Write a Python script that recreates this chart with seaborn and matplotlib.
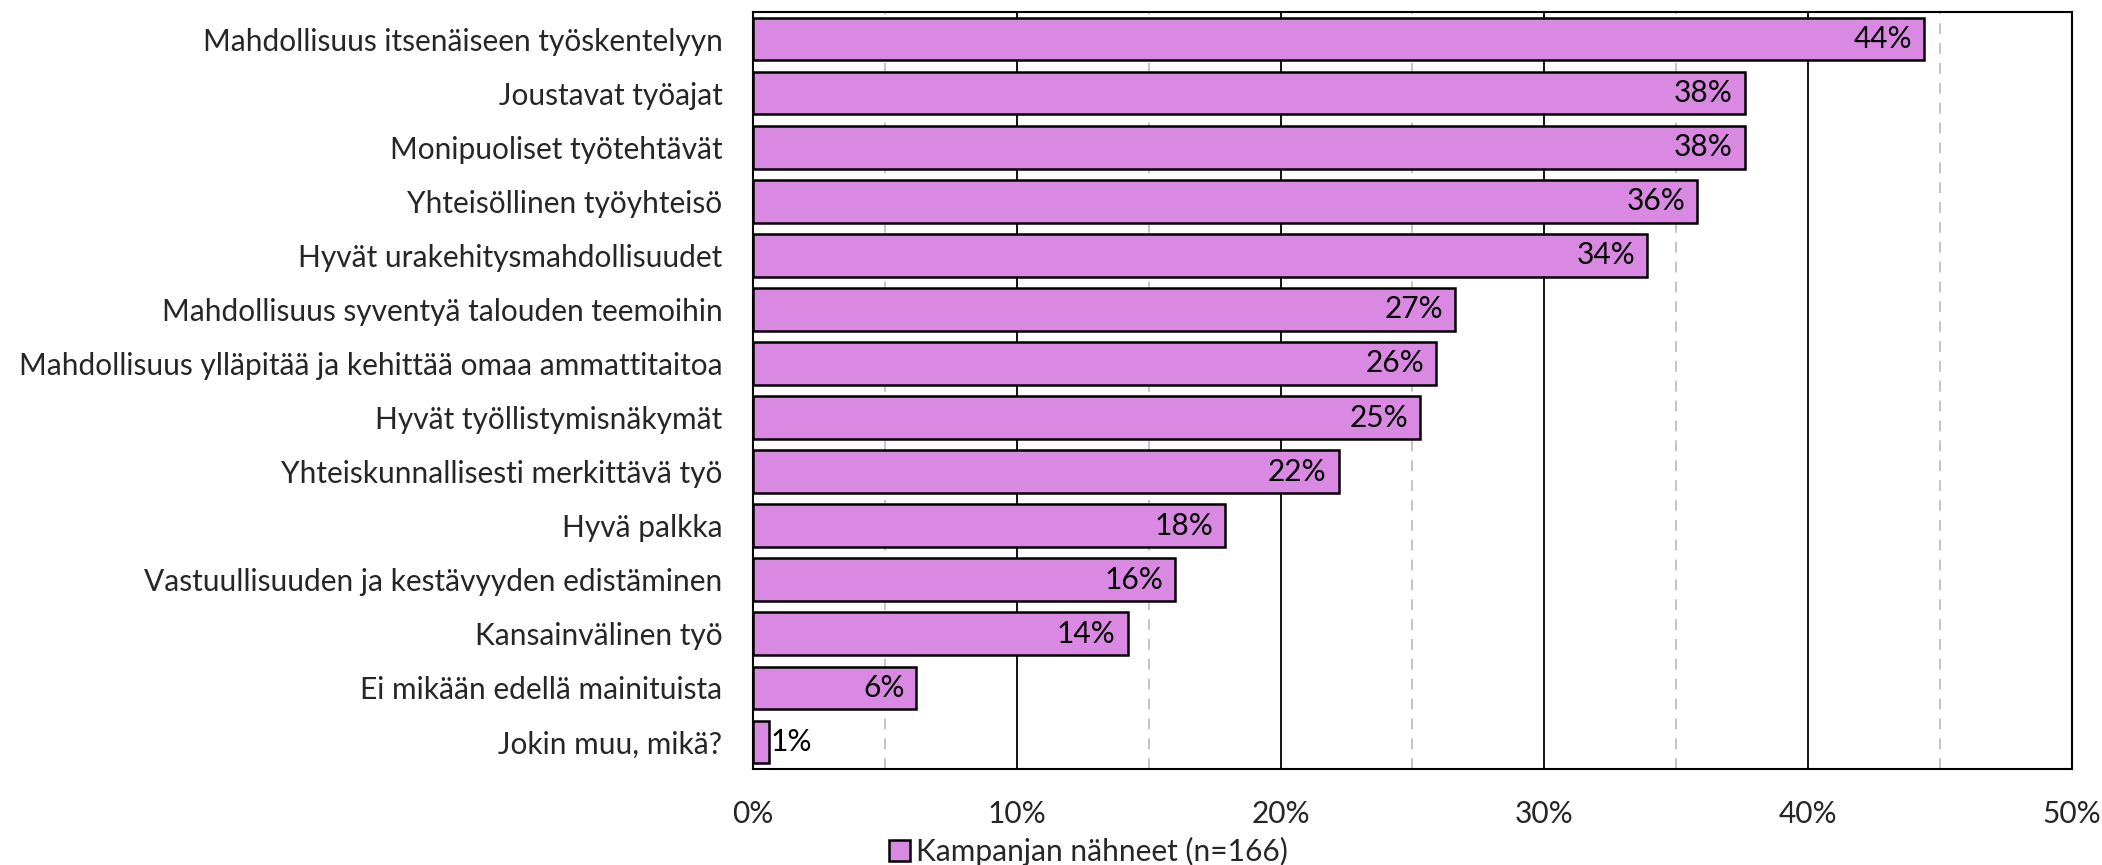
import matplotlib
matplotlib.use("Agg")
import matplotlib.pyplot as plt
import matplotlib.ticker as mticker
import pandas as pd
import seaborn as sns

# data (percent of respondents)
categories = [
    "Mahdollisuus itsenäiseen työskentelyyn",
    "Joustavat työajat",
    "Monipuoliset työtehtävät",
    "Yhteisöllinen työyhteisö",
    "Hyvät urakehitysmahdollisuudet",
    "Mahdollisuus syventyä talouden teemoihin",
    "Mahdollisuus ylläpitää ja kehittää omaa ammattitaitoa",
    "Hyvät työllistymisnäkymät",
    "Yhteiskunnallisesti merkittävä työ",
    "Hyvä palkka",
    "Vastuullisuuden ja kestävyyden edistäminen",
    "Kansainvälinen työ",
    "Ei mikään edellä mainituista",
    "Jokin muu, mikä?",
]
values = [44.4, 37.6, 37.6, 35.8, 33.9, 26.6, 25.9, 25.3, 22.2, 17.9, 16.0, 14.2, 6.2, 0.6]
series_name = "Kampanjan nähneet (n=166)"
x_ticks = [0, 10, 20, 30, 40, 50]

df = pd.DataFrame({"kategoria": categories, "osuus": values})

sns.set_style("white")
plt.rcParams["font.family"] = ["Lato", "DejaVu Sans"]
fs = 21.5
bar_color = "#DA89E2"

fig = plt.figure(figsize=(21.02, 8.65), dpi=100)
ax = fig.add_axes([0.3582, 0.111, 0.6275, 0.8751])

# grid first so bars sit on top
ax.set_axisbelow(True)
ax.xaxis.set_major_locator(mticker.FixedLocator(x_ticks))
ax.xaxis.set_minor_locator(mticker.MultipleLocator(5))
ax.grid(axis="x", which="major", color="black", linewidth=1.3)
ax.grid(axis="x", which="minor", color="#BFBFBF", linewidth=1.3, linestyle=(0, (6, 5)))

sns.barplot(data=df, x="osuus", y="kategoria", orient="h", color=bar_color,
            edgecolor="black", linewidth=1.8, width=0.79, saturation=1,
            label=series_name, ax=ax)

for i, v in enumerate(values):
    txt = f"{round(v):.0f}%"
    if v > 3:
        ax.text(v - 0.45, i, txt, ha="right", va="center", fontsize=fs, color="black")
    else:
        ax.text(v + 0.05, i, txt, ha="left", va="center", fontsize=fs, color="black")

ax.set_xlim(0, 50)
ax.set_ylim(len(categories) - 0.5, -0.5)
ax.xaxis.set_major_formatter(mticker.FuncFormatter(lambda x, p: f"{x:.0f}%"))
ax.tick_params(axis="both", which="both", length=0, labelsize=fs)
ax.tick_params(axis="x", pad=22)
ax.tick_params(axis="y", pad=22)
ax.set_xlabel("")
ax.set_ylabel("")
for s in ax.spines.values():
    s.set_visible(True)
    s.set_color("black")
    s.set_linewidth(1.5)

handles, labels = ax.get_legend_handles_labels()
if ax.get_legend() is not None:
    ax.get_legend().remove()
fig.legend(handles, labels, loc="center", bbox_to_anchor=(0.518, 0.016),
           frameon=False, fontsize=fs, handlelength=0.7, handleheight=0.7,
           handletextpad=0.2, borderpad=0)

fig.savefig("out.png", dpi=100)
